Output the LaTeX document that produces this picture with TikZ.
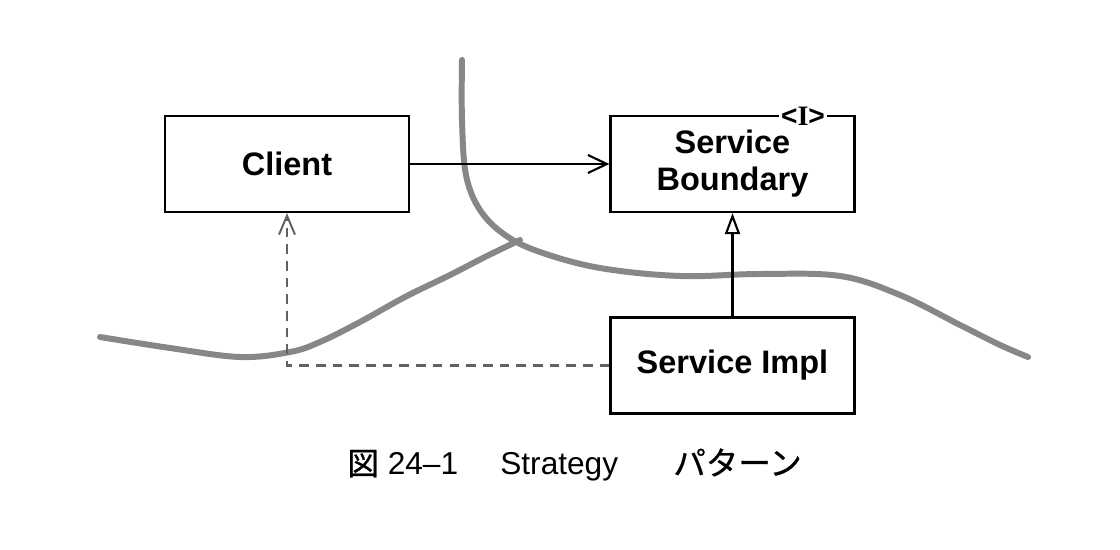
\documentclass[tikz,border=0pt]{standalone}
\usepackage{fontspec}
\setmainfont{Liberation Sans}
\newfontfamily\jpfont[FakeBold=0.8]{Noto Sans CJK JP}
\newfontfamily\serifface{Liberation Serif}
\usetikzlibrary{positioning, arrows.meta}
\tikzset{
 cls/.style={draw, shape=rectangle, line width=1.3pt, fill=white,
    minimum width=4.88cm, minimum height=1.92cm, align=center,
    font=\fontsize{18.5}{21}\selectfont\bfseries}
}

\begin{document}
\begin{tikzpicture}[x=0.02cm, y=-0.02cm]
\tikzstyle{connect}=[-{Straight Barb[length=3.8mm, width=3.6mm, line width=1.2pt]}, line width=1.2pt]
\tikzstyle{realize}=[-{Triangle[open, length=4.2mm, width=3mm, line width=1.2pt]}, line width=1.2pt]
\tikzstyle{depend}=[-{Straight Barb[length=3.8mm, width=3.2mm, line width=1.1pt]}, dash pattern=on 5.5pt off 4pt, draw=black!62, line width=1.2pt]
\tikzstyle{river}=[draw=black!47, line width=3.4pt, line cap=round, line join=round]
\tikzstyle{caption}=[anchor=base west, inner sep=0pt, font=\fontsize{18}{20}\selectfont]
\fill[white] (0,0) rectangle (1120,550);
\useasboundingbox (0,0) rectangle (1120,550);
% 1. Boundaries
%%%%%%%%%%%%%%%
\draw[river] plot[smooth, tension=0.6] coordinates {(462,60) (462,120) (466,175) (480,210) (505,235) (540,252) (600,268) (680,276) (760,274) (840,276) (900,295) (960,325) (1000,345) (1028,357)};
\draw[river] plot[smooth, tension=0.6] coordinates {(100,337) (170,348) (240,357) (290,352) (320,342) (360,322) (405,297) (450,275) (485,257) (520,240)};
% 2. Nodes
%%%%%%%%%%
\node[cls] (client) at (287,164) {Client};
\node[cls] (boundary) at (732.5,164) {Service\\Boundary};
\node[cls] (impl) at (732.5,365.5) {Service Impl};
\node[fill=white, inner sep=1pt, font=\fontsize{16}{16}\selectfont\bfseries] (iface) at (803,116) {<{\serifface I}>};

\node[caption] (fignum) at (347,475) {{\jpfont 図} 24–1};
\node[caption] (figname) at (500,475) {Strategy};
\node[caption, font=\fontsize{18.5}{20}\selectfont] (figjp) at (673,475) {\jpfont パターン};
% 3. Arrows
%%%%%%%%%%%
\path (client)  edge [connect] (boundary)
      (impl)    edge [realize] (boundary);
\draw[depend] (impl.west) -| (client.south);

\end{tikzpicture}
\end{document}
